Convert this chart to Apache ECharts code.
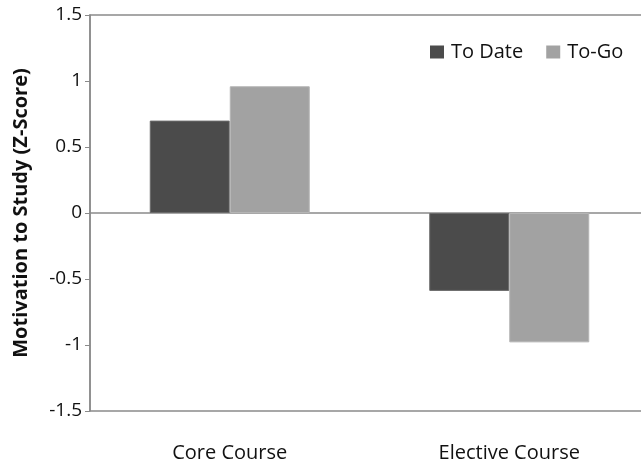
<!DOCTYPE html>
<html><head><meta charset="utf-8">
<script src="https://cdn.jsdelivr.net/npm/echarts@6/dist/echarts.min.js"></script>
<style>html,body{margin:0;padding:0;background:#fff;overflow:hidden}#c{width:680px;height:466px}</style>
</head><body><div id="c"></div>
<script>
const categories = ['Core Course', 'Elective Course'];
const toDate = [0.70, -0.59];
const toGo = [0.96, -0.98];
const yTicks = [-1.5, -1, -0.5, 0, 0.5, 1, 1.5];

const font = '"Open Sans", sans-serif';
const chart = echarts.init(document.getElementById('c'));
chart.setOption({
  animation: false,
  grid: {left: 90, top: 15, width: 559, height: 396, show: true, borderColor: '#8a8a8a', borderWidth: 1.5, backgroundColor: 'transparent'},
  legend: {
    left: 425, top: 37, itemWidth: 14, itemHeight: 13, itemGap: 23, itemStyle: {borderWidth: 0},
    icon: 'rect',
    textStyle: {fontFamily: font, fontSize: 20, color: '#111', padding: [0, 0, 0, 2]},
    data: ['To Date', 'To-Go']
  },
  xAxis: [
    {type: 'category', data: categories, position: 'bottom',
     axisLine: {show: false, onZero: false}, axisTick: {show: false},
     axisLabel: {margin: 32, fontFamily: font, fontSize: 20, color: '#111'}},
    {type: 'category', data: categories, position: 'bottom',
     axisLine: {show: true, onZero: true, lineStyle: {color: '#8a8a8a', width: 1.5}},
     axisTick: {show: false}, axisLabel: {show: false}}
  ],
  yAxis: {
    type: 'value', min: -1.5, max: 1.5, interval: 0.5,
    name: 'Motivation to Study (Z-Score)', nameLocation: 'middle', nameGap: 59,
    nameTextStyle: {fontFamily: font, fontSize: 20, fontWeight: 'bold', color: '#111'},
    axisLine: {show: true, lineStyle: {color: '#8a8a8a', width: 1.5}},
    axisTick: {show: true, length: 5, lineStyle: {color: '#8a8a8a'}},
    splitLine: {show: false},
    axisLabel: {fontFamily: font, fontSize: 19, color: '#111', margin: 8,
      formatter: v => yTicks.includes(v) ? String(v) : ''}
  },
  series: [
    {name: 'To Date', type: 'bar', data: toDate, barWidth: 80, barGap: '0%',
     itemStyle: {color: '#4b4b4b', borderColor: '#6a6a6a', borderWidth: 1}},
    {name: 'To-Go', type: 'bar', data: toGo, barWidth: 80, barGap: '0%',
     itemStyle: {color: '#a2a2a2', borderColor: '#b5b5b5', borderWidth: 1}}
  ]
});
</script></body></html>
